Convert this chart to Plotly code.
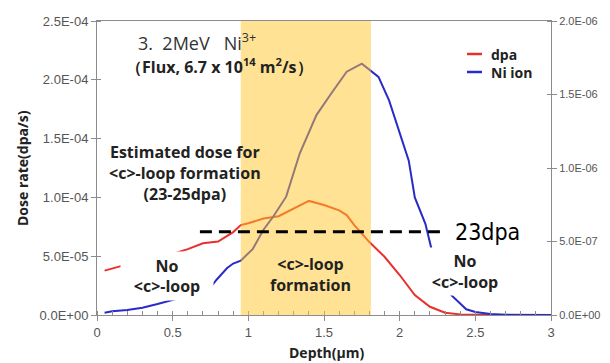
import plotly.graph_objects as go

# ---------------- data ----------------
depth_dpa = [0.05, 0.1, 0.17, 0.3, 0.4, 0.52, 0.6, 0.7, 0.8, 0.9, 0.95, 1.0, 1.1, 1.2, 1.3,
             1.4, 1.5, 1.6, 1.65, 1.7, 1.8, 1.9, 2.0, 2.1, 2.2, 2.3, 2.4, 2.5, 2.6, 3.0]
dpa_rate = [3.77e-5, 3.95e-5, 4.2e-5, 4.6e-5, 4.95e-5, 5.27e-5, 5.6e-5, 6.1e-5, 6.25e-5, 7.05e-5,
            7.65e-5, 7.8e-5, 8.2e-5, 8.4e-5, 9.05e-5, 9.7e-5, 9.35e-5, 8.9e-5, 8.5e-5, 7.65e-5,
            6.2e-5, 4.95e-5, 3.4e-5, 1.7e-5, 7.0e-6, 2.0e-6, 5.0e-7, 0.0, 0.0, 0.0]

depth_ni = [0.05, 0.1, 0.2, 0.3, 0.4, 0.5, 0.6, 0.7, 0.76, 0.79, 0.86, 0.9, 0.95, 1.03, 1.1,
            1.165, 1.25, 1.34, 1.45, 1.55, 1.65, 1.75, 1.86, 1.93, 2.0, 2.06, 2.1, 2.17,
            2.21, 2.34, 2.44, 2.5, 2.6, 2.7, 3.0]
ni_ion = [1.5e-8, 2.5e-8, 3.4e-8, 5.0e-8, 7.5e-8, 1.02e-7, 1.3e-7, 1.65e-7, 2.0e-7, 2.4e-7, 3.2e-7,
          3.5e-7, 3.7e-7, 4.5e-7, 5.8e-7, 6.7e-7, 8.05e-7, 1.1e-6, 1.36e-6, 1.51e-6, 1.655e-6,
          1.71e-6, 1.62e-6, 1.46e-6, 1.24e-6, 1.05e-6, 8.0e-7, 6.2e-7, 4.5e-7, 1.36e-7, 3.9e-8,
          2.0e-8, 7.0e-9, 2.0e-9, 0.0]

threshold_x = [0.68, 2.29]
threshold_y = [7.08e-5, 7.08e-5]
band_x = [0.95, 1.81]

x_tickvals = [0, 0.5, 1, 1.5, 2, 2.5, 3]
y_tickvals = [0, 5e-5, 1e-4, 1.5e-4, 2e-4, 2.5e-4]
y_ticktext = ["0.0E+00", "5.0E-05", "1.0E-04", "1.5E-04", "2.0E-04", "2.5E-04"]
y2_tickvals = [0, 5e-7, 1e-6, 1.5e-6, 2e-6]
y2_ticktext = ["0.0E+00", "5.0E-07", "1.0E-06", "1.5E-06", "2.0E-06"]

RED = "#E8302C"
BLUE = "#2A2AC8"
GRAY = "#8C8C8C"
TICKC = "#555555"
BOLD = "Open Sans"

L, R, T, B = 97, 59, 21, 48
W, H = 610, 363
PW, PH = W - L - R, H - T - B


def px_x(p):
    return (p - L) / PW


def px_y(p):
    return (H - B - p) / PH


fig = go.Figure()
fig.add_trace(go.Scatter(x=depth_dpa, y=dpa_rate, mode="lines", name="dpa",
                         line=dict(color=RED, width=2), yaxis="y"))
fig.add_trace(go.Scatter(x=depth_ni, y=ni_ion, mode="lines", name="Ni ion",
                         line=dict(color=BLUE, width=2), yaxis="y2"))

# formation band drawn translucently above the curves
fig.add_shape(type="rect", xref="x", yref="y domain", x0=band_x[0], x1=band_x[1], y0=0, y1=1,
              fillcolor="rgb(255,198,40)", opacity=0.5, line_width=0, layer="above")
# 23 dpa threshold line
fig.add_shape(type="line", xref="x", yref="y", x0=threshold_x[0], x1=threshold_x[1],
              y0=threshold_y[0], y1=threshold_y[1], line=dict(color="black", width=3, dash="12px,7px"),
              layer="above")

# manual legend
for name, col, ypix in [("dpa", RED, 54), ("Ni ion", BLUE, 72)]:
    yp = px_y(ypix)
    fig.add_shape(type="line", xref="paper", yref="paper", x0=px_x(467), x1=px_x(482),
                  y0=yp, y1=yp, line=dict(color=col, width=2.5))
    fig.add_annotation(xref="paper", yref="paper", x=px_x(489), y=yp, text="<b>%s</b>" % name,
                       showarrow=False, xanchor="left", yanchor="middle",
                       font=dict(family=BOLD, size=14, color="#222"))


def ann(xp, yp, text, size=16, bg=None, w=None, h=None, color="#222", family=BOLD, angle=0):
    kw = dict(x=px_x(xp), y=px_y(yp), xref="paper", yref="paper", text=text, showarrow=False,
              xanchor="center", yanchor="middle", textangle=angle,
              font=dict(family=family, size=size, color=color), align="center")
    if bg:
        kw.update(bgcolor=bg, width=w, height=h)
    fig.add_annotation(**kw)


ann(197, 42, "3.  2MeV   Ni<sup>3+</sup>", size=18, family="Open Sans", color="#333")
ann(219, 66, "<b>（Flux, 6.7 x 10<sup>14</sup> m<sup>2</sup>/s）</b>", size=16)
ann(185, 173, "<b>Estimated dose for<br>&lt;c&gt;-loop formation<br>(23-25dpa)</b>", size=16)
ann(167, 276, "<b>No<br>&lt;c&gt;-loop</b>", size=16, bg="white", w=90, h=46)
ann(310, 274.5, "<b>&lt;c&gt;-loop<br>formation</b>", size=16)
ann(465, 271.5, "<b>No<br>&lt;c&gt;-loop</b>", size=16, bg="white", w=76, h=45)
fig.add_annotation(x=px_x(453), y=threshold_y[0], xref="paper", yref="y", text="23dpa",
                   showarrow=False, xanchor="left", yanchor="middle",
                   font=dict(family="DejaVu Sans Condensed", size=23, color="black"))
# axis titles
ann(22, 168, "<b>Dose rate(dpa/s)</b>", size=14, angle=-90)
ann(327, 352, "<b>Depth(μm)</b>", size=14)

fig.update_layout(
    width=W, height=H, margin=dict(l=L, r=R, t=T, b=B),
    paper_bgcolor="white", plot_bgcolor="white", showlegend=False,
    font=dict(family="Liberation Sans, Arial", color=TICKC),
    xaxis=dict(range=[0, 3], tickvals=x_tickvals, showgrid=False, zeroline=False, automargin=False,
               showline=True, linecolor=GRAY, linewidth=1, mirror=True,
               ticks="outside", ticklen=5, tickcolor=GRAY, tickfont=dict(size=13, color=TICKC),
               minor=dict(dtick=0.1, ticks="inside", ticklen=4, tickcolor=GRAY)),
    yaxis=dict(range=[0, 2.5e-4], tickvals=y_tickvals, ticktext=y_ticktext, showgrid=False,
               zeroline=False, showline=True, linecolor=GRAY, linewidth=1, automargin=False,
               ticks="outside", ticklen=5, tickcolor=GRAY, tickfont=dict(size=13, color=TICKC),
               minor=dict(tickvals=y_tickvals, ticks="inside", ticklen=4, tickcolor=GRAY)),
    yaxis2=dict(range=[0, 2e-6], tickvals=y2_tickvals, ticktext=y2_ticktext, overlaying="y",
                side="right", showgrid=False, zeroline=False, showline=True, linecolor=GRAY,
                linewidth=1, ticks="outside", ticklen=5, tickcolor=GRAY, automargin=False,
                tickfont=dict(size=11, color=TICKC),
                minor=dict(tickvals=y2_tickvals, ticks="inside", ticklen=4, tickcolor=GRAY)),
)

fig.write_html("out.html", config={"displayModeBar": False},
               post_script="document.body.style.margin='0';")
